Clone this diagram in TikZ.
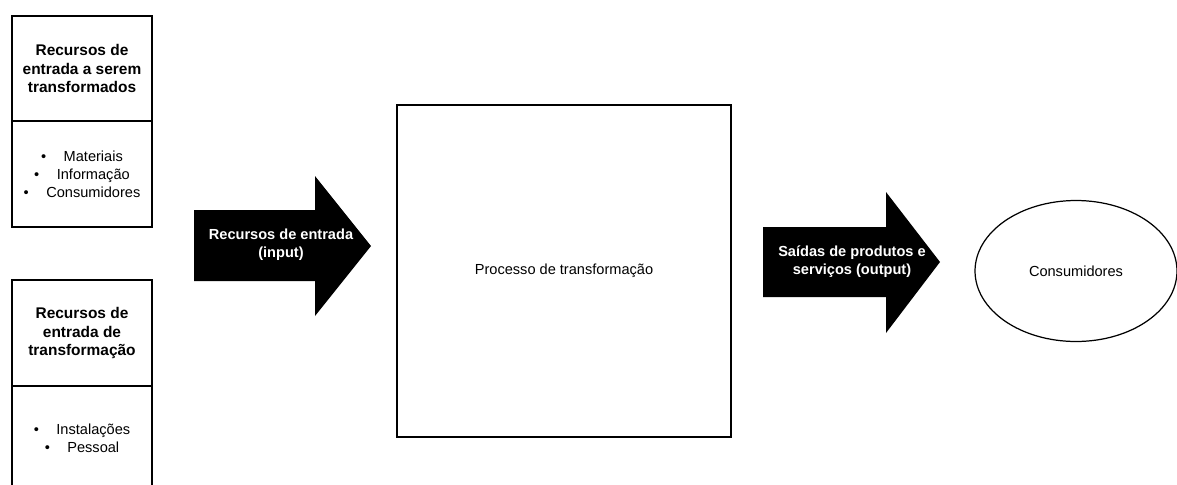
\documentclass[tikz,border=0pt]{standalone}
\usepackage{fontspec}
\setmainfont{Liberation Sans}
\usetikzlibrary{shapes.geometric}
\tikzset{
  txt/.style={font=\fontsize{8.3}{10.3}\selectfont, align=center},
  box/.style={txt, draw, line width=0.7pt, minimum width=2.8cm, inner sep=0pt},
  title/.style={box, font=\bfseries\fontsize{8.8}{10.5}\selectfont},
  bigarrow/.style={fill=black},
  arrowtext/.style={txt, text=white, font=\bfseries\fontsize{8.3}{10.3}\selectfont}
}
\newcommand{\bul}{\textbullet\hspace{1.2em}}
\begin{document}
\begin{tikzpicture}[x=0.02cm, y=-0.02cm]
  \useasboundingbox (0,0) rectangle (1177,484);
  \node[title, minimum height=2.1cm] (tit1) at (82,68.5)
    {Recursos de\\entrada a serem\\transformados};
  \node[box, minimum height=2.12cm] (lst1) at (82,174)
    {\bul Materiais\\\bul Informação\\\bul Consumidores};
  \node[title, minimum height=2.12cm] (tit2) at (82,333)
    {Recursos de\\entrada de\\transformação};
  \node[box, minimum height=2.08cm] (lst2) at (82,438)
    {\bul Instalações\\\bul Pessoal};
  \fill[bigarrow] (194,210) -- (315,210) -- (315,176) -- (371,246)
    -- (315,316) -- (315,281) -- (194,281) -- cycle;
  \node[arrowtext] (in) at (281,245) {Recursos de entrada\\(input)};
  \node[box, minimum width=6.68cm, minimum height=6.64cm] (proc) at (564,271)
    {Processo de transformação};
  \fill[bigarrow] (763,227) -- (886,227) -- (886,192) -- (940,262)
    -- (886,333) -- (886,297) -- (763,297) -- cycle;
  \node[arrowtext] (out) at (852,262) {Saídas de produtos e\\serviços (output)};
  \node[box, ellipse, minimum width=4.04cm, minimum height=2.82cm] (cons) at (1076,271)
    {Consumidores};
\end{tikzpicture}
\end{document}
